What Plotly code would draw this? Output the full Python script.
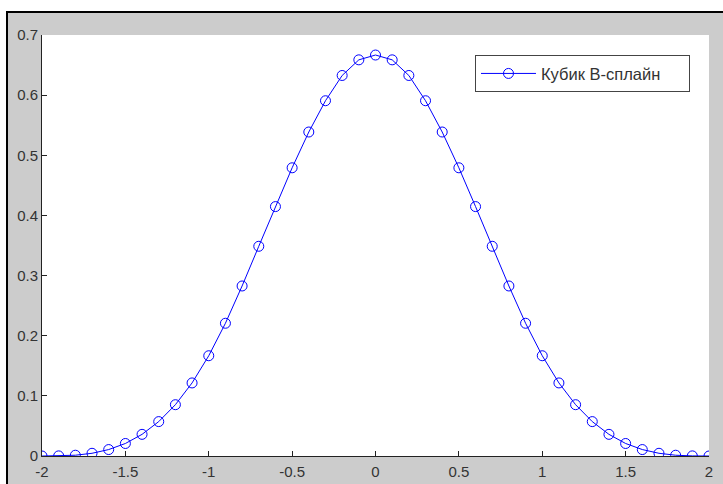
import plotly.graph_objects as go

x_vals = [-2.0, -1.9, -1.8, -1.7, -1.6, -1.5, -1.4, -1.3, -1.2, -1.1, -1.0,
          -0.9, -0.8, -0.7, -0.6, -0.5, -0.4, -0.3, -0.2, -0.1, 0.0,
          0.1, 0.2, 0.3, 0.4, 0.5, 0.6, 0.7, 0.8, 0.9, 1.0,
          1.1, 1.2, 1.3, 1.4, 1.5, 1.6, 1.7, 1.8, 1.9, 2.0]
y_vals = [0.0, 0.0002, 0.0013, 0.0045, 0.0107, 0.0208, 0.036, 0.0572, 0.0853, 0.1215, 0.1667,
          0.2207, 0.2827, 0.3487, 0.4147, 0.4792, 0.5387, 0.5907, 0.6327, 0.6587, 0.6667,
          0.6587, 0.6327, 0.5907, 0.5387, 0.4792, 0.4147, 0.3487, 0.2827, 0.2207, 0.1667,
          0.1215, 0.0853, 0.0572, 0.036, 0.0208, 0.0107, 0.0045, 0.0013, 0.0002, 0.0]
series_name = "Кубик B-сплайн"
x_ticks = [-2, -1.5, -1, -0.5, 0, 0.5, 1, 1.5, 2]
x_tick_text = ["-2", "-1.5", "-1", "-0.5", "0", "0.5", "1", "1.5", "2"]
y_ticks = [0, 0.1, 0.2, 0.3, 0.4, 0.5, 0.6, 0.7]
y_tick_text = ["0", "0.1", "0.2", "0.3", "0.4", "0.5", "0.6", "0.7"]

W, H = 723, 484
ml, mr, mt, mb = 42, 14, 35, 28
pw, ph = W - ml - mr, H - mt - mb

fig = go.Figure()
fig.add_trace(go.Scatter(
    x=x_vals, y=y_vals, name=series_name, mode="lines+markers",
    line=dict(color="#0000ff", width=1),
    marker=dict(symbol="circle-open", size=10, color="#0000ff", line=dict(width=1)),
))

# gray figure background with black frame
fx0 = (7 - ml) / pw
fy1 = 1 + (mt - 12) / ph
fig.add_shape(type="rect", xref="paper", yref="paper", layer="below",
              x0=fx0, x1=1 + (mr + 20) / pw, y0=-(mb + 20) / ph, y1=fy1,
              fillcolor="#cccccc", line=dict(color="black", width=2))
fig.add_shape(type="rect", xref="paper", yref="paper", layer="below",
              x0=0, x1=1, y0=0, y1=1, fillcolor="white", line=dict(width=0))

fig.update_layout(
    template="none",
    width=W, height=H,
    margin=dict(l=ml, r=mr, t=mt, b=mb, pad=0, autoexpand=False),
    paper_bgcolor="white", plot_bgcolor="rgba(0,0,0,0)",
    font=dict(family="Arial, Liberation Sans", size=15, color="#333333"),
    showlegend=True,
    legend=dict(x=0.9715, y=0.952, xanchor="right", yanchor="top",
                orientation="h",
                bgcolor="white", bordercolor="#444444", borderwidth=1,
                itemwidth=55, tracegroupgap=0,
                entrywidth=143, entrywidthmode="pixels",
                font=dict(size=16.5, color="#333333")),
    xaxis=dict(range=[-2, 2], tickvals=x_ticks, ticktext=x_tick_text, automargin=False,
               showgrid=False, zeroline=False, showline=True, linecolor="#222222",
               linewidth=1, ticks="inside", ticklen=5, tickcolor="#222222",
               ticklabelstandoff=2, tickfont=dict(size=15)),
    yaxis=dict(range=[0, 0.7], tickvals=y_ticks, ticktext=y_tick_text, automargin=False,
               showgrid=False, zeroline=False, showline=True, linecolor="#222222",
               linewidth=1, ticks="inside", ticklen=5, tickcolor="#222222",
               ticklabelstandoff=0, tickfont=dict(size=15)),
)

fig.write_html("out.html")
